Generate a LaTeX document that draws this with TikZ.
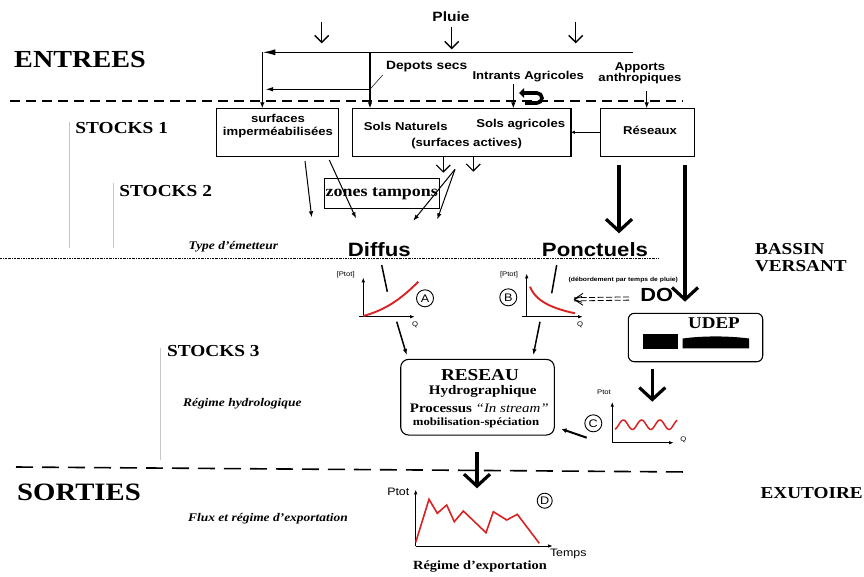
\documentclass[tikz,border=0pt]{standalone}
\usepackage{fontspec}
\setmainfont{Liberation Serif}[FakeStretch=1.15]
\setsansfont{Liberation Sans}[FakeStretch=1.15]
\usetikzlibrary{arrows.meta}
\newcommand\FS[1]{\fontsize{#1}{#1}\selectfont}
\definecolor{curvered}{RGB}{215,35,35}
\begin{document}
\begin{tikzpicture}[x=1pt,y=-1pt,line width=1.4pt,
  every node/.style={inner sep=0pt,outer sep=0pt},
  big/.style={font=\bfseries\FS{24.5}},
  stock/.style={font=\bfseries\FS{16.8}},
  side/.style={font=\bfseries\FS{16.7},align=left},
  ital/.style={font=\bfseries\itshape\FS{11.7}},
  lab/.style={font=\sffamily\bfseries\FS{11.4},align=center},
  emit/.style={font=\sffamily\bfseries\FS{19.3}},
  tiny/.style={font=\sffamily\FS{6.7}},
  box/.style={draw,line width=1.1pt},
  rbox/.style={draw,rounded corners=8pt,line width=1.1pt},
  vee/.style={-{Straight Barb[length=7pt,width=14pt]}},
  thickvee/.style={line width=3.2pt,-{Straight Barb[length=12pt,width=26pt]}},
  filltip/.style={-{Latex[length=6pt,width=4.5pt]}},
  bigtip/.style={-{Latex[length=13pt,width=6pt]}},
  axis/.style={line width=1pt,-{Latex[length=5pt,width=3.5pt]}},
  redc/.style={curvered,line width=1.9pt},
  circ/.style={circle,draw,line width=0.9pt,minimum size=17pt,font=\sffamily\FS{11}},
  grayl/.style={gray!45,line width=0.6pt}]
\useasboundingbox (0,0) rectangle (864,576);

% ---------- left / right labels ----------
\node[big] (entrees) at (80,60) {ENTREES};
\node[big,font=\bfseries\FS{25}] (sorties) at (79,492.7) {SORTIES};
\node[stock] (st1) at (121.7,127.7) {STOCKS 1};
\node[stock] (st2) at (165.7,191) {STOCKS 2};
\node[stock] (st3) at (213.3,350.7) {STOCKS 3};
\node[ital] (typem) at (233.3,247) {Type d’émetteur};
\node[ital] (reghyd) at (242.3,404) {Régime hydrologique};
\node[ital] (flux) at (268,519) {Flux et régime d’exportation};
\node[side,anchor=north west] (bassin) at (755,243) {BASSIN\\[1pt]VERSANT};
\node[side] (exut) at (811.7,492.7) {EXUTOIRE};

\draw[grayl] (69.3,121.7) coordinate (g1a) -- (69.3,248.3) coordinate (g1b);
\draw[grayl] (113.3,183.3) coordinate (g2a) -- (113.3,248.3) coordinate (g2b);
\draw[grayl] (160.7,348) coordinate (g3a) -- (160.7,460) coordinate (g3b);

% ---------- separator lines ----------
\draw[line width=1.3pt,dash pattern=on 10pt off 6pt] (10,101) coordinate (d1a) -- (683,101) coordinate (d1b);
\draw[line width=0.6pt,dash pattern=on 2pt off 1pt on 0.6pt off 1pt] (0,258) coordinate (d2a) -- (658,258) coordinate (d2b);
\draw[line width=1.6pt,dash pattern=on 17pt off 9pt] (16,467) coordinate (d3a) -- (690,472) coordinate (d3b);

% ---------- inputs ----------
\node[font=\sffamily\bfseries\FS{13.5}] (pluie) at (451,16.7) {Pluie};
\coordinate (pa1) at (321.7,21.7); \coordinate (pa2) at (321.7,43.3);
\coordinate (pb1) at (451.7,26.7); \coordinate (pb2) at (451.7,49.3);
\coordinate (pc1) at (575.7,21.7); \coordinate (pc2) at (575.7,43.3);
\draw[vee] (pa1) -- (pa2);
\draw[vee] (pb1) -- (pb2);
\draw[vee] (pc1) -- (pc2);

\node[lab,font=\sffamily\bfseries\FS{12}] (depots) at (426.7,66.7) {Depots secs};
\node[lab] (intrants) at (528.3,76.7) {Intrants Agricoles};
\node[lab] (apports) at (640,73.3) {Apports\\anthropiques};

% boxes stocks 1
\node[box,minimum width=122pt,minimum height=47.7pt] (surf) at (277.2,132.2) {};
\node[lab] (surftxt) at (278,126) {surfaces\\[1pt]imperméabilisées};
\node[box,minimum width=218.3pt,minimum height=47.7pt] (sols) at (461.8,132.2) {};
\node[lab] (solsnat) at (405.7,126) {Sols Naturels};
\node[lab] (solsagr) at (520.7,124.3) {Sols agricoles};
\node[lab] (surfact) at (466.7,143.3) {(surfaces actives)};
\node[box,minimum width=94.3pt,minimum height=48.4pt] (res) at (647.2,132.5) {};
\node[lab] (restxt) at (650,130) {Réseaux};

% rain line and dry deposits
\coordinate (hR) at (633.3,52.3);
\coordinate (hL) at (262.3,52.3);
\coordinate (hM) at (370,52.3);
\coordinate (dsR) at (370,89.3);
\coordinate (dsL) at (265,89.3);
\draw[bigtip] (hR) -- (hL);
\draw[filltip] (hL) -- (hL |- surf.north);
\draw[filltip] (hM) -- (hM |- sols.north);
\draw[-{Latex[length=8pt,width=4.5pt]}] (dsR) -- (dsL);
\coordinate (lead) at (382.7,75);
\draw[line width=0.5pt] (dsR) -- (lead);

% intrants
\coordinate (in1) at (513.3,84);
\draw[line width=1pt,filltip] (in1) -- (in1 |- sols.north);
\coordinate (ut1) at (525,103);
\coordinate (ut2) at (519,93);
\draw[line width=3.6pt,-{Triangle[length=5pt,width=9.5pt]}] (ut1) -- (537,103) arc[start angle=90,end angle=-90,radius=5] -- (ut2);
% apports
\coordinate (ap1) at (646.7,91);
\draw[line width=1pt,filltip] (ap1) -- (ap1 |- res.north);
% reseaux -> sols
\coordinate (rs) at (600,132.3);
\draw[line width=1pt,-{Latex[length=4pt,width=3.5pt]}] (rs) -- (sols.east |- rs);

% ---------- stocks 2 ----------
\node[box,minimum width=115pt,minimum height=30pt,font=\bfseries\FS{15.6}] (zt) at (381.8,193.3) {zones tampons};
\coordinate (s1a) at (305,161); \coordinate (s1b) at (311.7,217.3);
\coordinate (s2a) at (329.3,160); \coordinate (s2b) at (356,218.3);
\draw[filltip,line width=1pt] (s1a) -- (s1b);
\draw[filltip,line width=1pt] (s2a) -- (s2b);
\coordinate (v1) at (443.3,156); \coordinate (v1b) at (443.3,172.7);
\coordinate (v2) at (473.3,156); \coordinate (v2b) at (473.3,171.7);
\draw[vee,line width=1.1pt] (v1) -- (v1b);
\draw[vee,line width=1.1pt] (v2) -- (v2b);
\coordinate (fan) at (455,169.3);
\coordinate (fan1) at (413.3,220.7); \coordinate (fan2) at (437.3,219.3);
\draw[filltip,line width=1pt] (fan) -- (fan1);
\draw[filltip,line width=1pt] (fan) -- (fan2);

% thick arrows from reseaux
\coordinate (ta1) at (619,165); \coordinate (ta2) at (619,233.3);
\draw[thickvee] (ta1) -- (ta2);
\coordinate (tb1) at (685,165); \coordinate (tb2) at (685,301.7);
\draw[thickvee] (tb1) -- (tb2);

% ---------- emitters ----------
\node[emit] (diffus) at (379.3,249.3) {Diffus};
\node[emit] (ponct) at (595,249.3) {Ponctuels};

% graph A
\coordinate (oA) at (363.3,316.7);
\draw[axis] (oA) -- (363.3,277.3) coordinate (yA);
\draw[axis] (359,316.7) coordinate (xA0) -- (415,316.7) coordinate (xA);
\node[tiny] (ptA) at (345.7,274.3) {[Ptot]};
\node[tiny] (qA) at (415,325) {Q};
\draw[redc] (363.3,316) .. controls (385,310) and (400,300) .. (418.3,281.7);
\node[circ] (cA) at (425,298.3) {A};
\coordinate (lA1) at (381.7,265); \coordinate (lA2) at (387.3,291.7);
\draw[line width=1.5pt] (lA1) -- (lA2);

% graph B
\coordinate (oB) at (526.7,316.7);
\draw[axis] (oB) -- (526.7,273.3) coordinate (yB);
\draw[axis] (521.7,316.7) coordinate (xB0) -- (583,316.7) coordinate (xB);
\node[tiny] (ptB) at (509,274.3) {[Ptot]};
\node[tiny] (qB) at (580,325) {Q};
\draw[redc] (530,286.7) .. controls (535,300) and (550,308) .. (575,313.3);
\node[circ] (cB) at (508.3,297.3) {B};
\coordinate (lB1) at (556.7,265); \coordinate (lB2) at (551.7,293.3);
\draw[line width=1.5pt] (lB1) -- (lB2);

% DO
\node[font=\sffamily\bfseries\FS{5.9}] (debord) at (623.3,280) {(débordement par temps de pluie)};
\node[emit,font=\sffamily\bfseries\FS{19}] (do) at (656.7,295) {DO};
\coordinate (do1) at (629,298.5); \coordinate (do2) at (574,299.3);
\draw[line width=0.8pt,dash pattern=on 6pt off 2.5pt] ([yshift=-1.6pt]do1) -- ([yshift=-1.6pt]do2);
\draw[line width=0.8pt,dash pattern=on 6pt off 2.5pt] ([yshift=1.6pt]do1) -- ([yshift=1.6pt]do2);
\draw[line width=0.8pt] (do2) -- ++(9,-6) (do2) -- ++(9,6) (do2) -- ++(8,-3) (do2) -- ++(8,3);

% ---------- UDEP ----------
\node[draw,rounded corners=6pt,line width=1.1pt,minimum width=134.4pt,minimum height=48.4pt] (udep) at (695.5,337.5) {};
\node[font=\bfseries\FS{16.5}] (udeptxt) at (714,322.7) {UDEP};
\fill (642.7,334.3) rectangle (677.7,349.3);
\fill (682.7,348.3) -- (682.7,338.5) .. controls (705,335.5) and (730,336) .. (749,338.5) -- (749,348.3) -- cycle;
\coordinate (ua1) at (652.3,369.3); \coordinate (ua2) at (652.3,401.7);
\draw[thickvee] (ua1) -- (ua2);

% graph C
\coordinate (oC) at (612.3,442.7);
\draw[axis] (oC) -- (612.3,401.7) coordinate (yC);
\draw[axis] (oC) -- (674,442.7) coordinate (xC);
\node[tiny] (ptC) at (604,392) {Ptot};
\node[tiny] (qC) at (683.3,440) {Q};
\draw[redc,line width=1.5pt,domain=0:62.3,samples=90] plot ({615+\x},{424.7-4.7*cos(19.672*(\x-8.3))});
\node[circ] (cC) at (593.3,423.3) {C};

% ---------- RESEAU ----------
\node[rbox,minimum width=153.6pt,minimum height=75.7pt] (reseau) at (477.5,397.2) {};
\node[font=\bfseries\FS{16.7}] (rt1) at (480,375) {RESEAU};
\node[font=\bfseries\FS{13.1}] (rt2) at (482.7,391.7) {Hydrographique};
\node[font=\bfseries\FS{13}] (rt3) at (479.3,408.3) {Processus {\mdseries\itshape “In stream”}};
\node[font=\bfseries\FS{11.1}] (rt4) at (476,423.3) {mobilisation-spéciation};
\coordinate (ga1) at (396.7,321.7); \coordinate (ga2) at (406.7,355);
\coordinate (gb1) at (540,321.7); \coordinate (gb2) at (533.3,355);
\draw[filltip,line width=1.5pt] (ga1) -- (ga2);
\draw[filltip,line width=1.5pt] (gb1) -- (gb2);
\coordinate (gc1) at (586.7,437.7); \coordinate (gc2) at (561.5,429);
\draw[line width=2pt,-{Latex[length=5pt,width=5pt]}] (gc1) -- (gc2);

% ---------- outputs ----------
\coordinate (oa1) at (477,451.7); \coordinate (oa2) at (477,488.3);
\draw[thickvee] (oa1) -- (oa2);

% graph D
\coordinate (oD) at (415.7,546);
\draw[axis] (oD) -- (415.7,489.3) coordinate (yD);
\draw[axis] (oD) -- (553,546) coordinate (xD);
\node[font=\sffamily\FS{10.8}] (ptD) at (398.3,491.7) {Ptot};
\node[font=\sffamily\FS{10.8}] (tD) at (568.3,554.3) {Temps};
\draw[redc,line width=1.6pt,line join=miter] (415.7,542.3) -- (429,499.3) -- (437.3,513.3) -- (446.7,505) -- (454.3,521.7) -- (463.3,511) -- (486,532.7) -- (493.3,511.7) -- (506.7,520) -- (517.3,514.3) -- (539.3,543.3);
\node[circ,minimum size=15pt] (cD) at (544.7,500.7) {D};
\node[font=\bfseries\FS{12.5}] (regexp) at (480,567) {Régime d’exportation};
\end{tikzpicture}
\end{document}
